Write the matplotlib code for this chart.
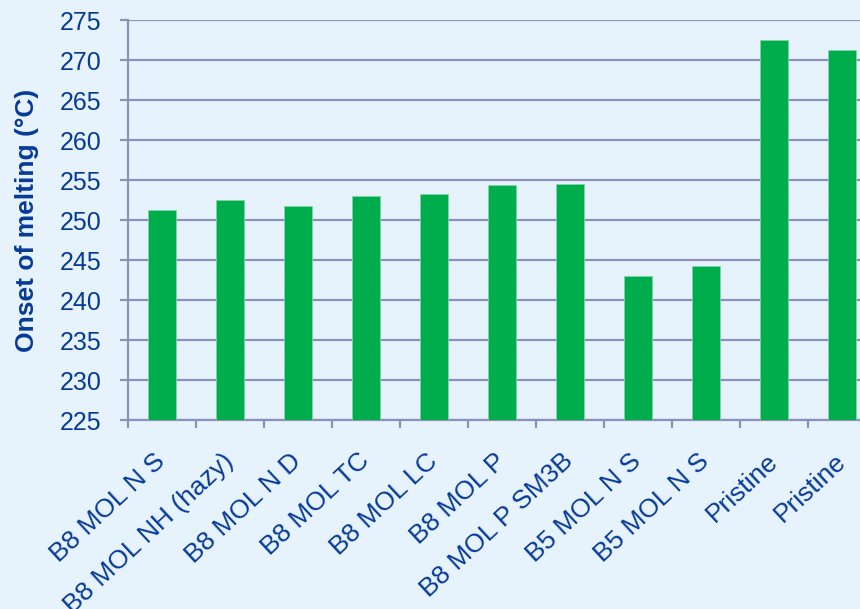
import matplotlib.pyplot as plt
import numpy as np

plt.rcParams['font.family'] = ['Liberation Sans', 'DejaVu Sans']

samples = ['B8 MOL N S', 'B8 MOL NH (hazy)', 'B8 MOL N D', 'B8 MOL TC', 'B8 MOL LC',
           'B8 MOL P', 'B8 MOL P SM3B', 'B5 MOL N S', 'B5 MOL N S', 'Pristine', 'Pristine']
onset = [251.3, 252.5, 251.8, 253.0, 253.2, 254.4, 254.5, 243.0, 244.2, 272.5, 271.2]

bg = '#e6f3fd'
blue = '#073a98'
grid = '#8d90b9'

fig = plt.figure(figsize=(8.6, 6.09), dpi=100, facecolor=bg)
# plot area runs past the right edge of the picture, as in the original
ax = fig.add_axes([128 / 860, 1 - 420 / 609, 748 / 860, 400 / 609])
ax.set_facecolor(bg)

x = np.arange(len(samples))
ax.bar(x, [v - 225 for v in onset], bottom=225, width=0.4, color='#00ad4d',
       edgecolor='#7fd6a6', linewidth=0.6, zorder=3)

ax.set_xlim(-0.5, len(samples) - 0.5)
ax.set_ylim(225, 275)
ax.set_yticks(np.arange(225, 276, 5))
ax.yaxis.grid(True, color=grid, linewidth=1.6, zorder=0)
ax.set_axisbelow(True)

for s in ['top', 'right']:
    ax.spines[s].set_visible(False)
for s in ['left', 'bottom']:
    ax.spines[s].set_color(grid)
    ax.spines[s].set_linewidth(1.6)

ax.set_xticks(x)
ax.set_xticklabels(samples, rotation=43, ha='right', va='center', rotation_mode='anchor',
                   fontsize=19, color=blue)
ax.tick_params(axis='x', which='major', length=0, pad=27)
ax.set_xticks(np.arange(len(samples) + 1) - 0.5, minor=True)
ax.tick_params(axis='x', which='minor', length=6, width=1.6, color=grid, direction='out')
ax.tick_params(axis='y', length=6, width=1.6, color=grid, labelsize=18,
               labelcolor=blue, pad=13)

fig.text(27 / 860, 1 - 220 / 609, 'Onset of melting (°C)', rotation=90, ha='center',
         va='center', fontsize=19, fontweight='bold', color=blue)

fig.savefig('out.png', dpi=100, facecolor=bg)
